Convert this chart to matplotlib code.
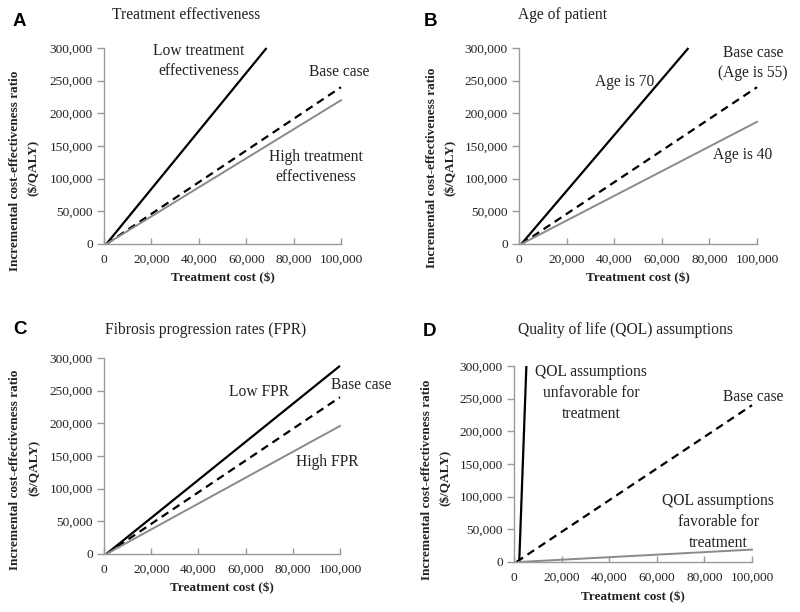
import matplotlib
matplotlib.use("Agg")
import matplotlib.pyplot as plt
from matplotlib.ticker import FuncFormatter

# ---------------- data ----------------
panel_letters = ["A", "B", "C", "D"]
panel_titles = ["Treatment effectiveness", "Age of patient",
                "Fibrosis progression rates (FPR)", "Quality of life (QOL) assumptions"]

# each series: x points (treatment cost), y points (ICER)
A_low_x = [1000, 68600];  A_low_y = [0, 300000]
A_base_x = [1000, 100000]; A_base_y = [0, 240000]
A_high_x = [1000, 100000]; A_high_y = [0, 220000]

B_70_x = [1000, 71200];   B_70_y = [0, 300000]
B_base_x = [1000, 100000]; B_base_y = [0, 240000]
B_40_x = [1000, 100000];  B_40_y = [0, 187000]

C_low_x = [1000, 100000]; C_low_y = [0, 288000]
C_base_x = [1000, 100000]; C_base_y = [0, 240000]
C_high_x = [1000, 100000]; C_high_y = [0, 196000]

D_unfav_x = [2200, 5200];  D_unfav_y = [0, 300000]
D_base_x = [1000, 100000]; D_base_y = [0, 240000]
D_fav_x = [2000, 100000];  D_fav_y = [0, 19000]

x_ticks = [0, 20000, 40000, 60000, 80000, 100000]
y_ticks = [0, 50000, 100000, 150000, 200000, 250000, 300000]

labels_A = ["Low treatment\neffectiveness", "Base case", "High treatment\neffectiveness"]
labels_B = ["Age is 70", "Base case\n(Age is 55)", "Age is 40"]
labels_C = ["Low FPR", "Base case", "High FPR"]
labels_D = ["QOL assumptions\nunfavorable for\ntreatment", "Base case",
            "QOL assumptions\nfavorable for\ntreatment"]

x_label = "Treatment cost ($)"
y_label1 = "Incremental cost-effectiveness ratio"
y_label2 = "($/QALY)"

# ---------------- layout ----------------
W, H = 800, 612
fig = plt.figure(figsize=(W / 100, H / 100), dpi=100)
SERIF = "Liberation Serif"
SANS = "Liberation Sans"
TXT = "#222222"


def P(x, y):
    return x / W, 1 - y / H


def make_axes(L, T, w, h):
    return fig.add_axes([L / W, 1 - (T + h) / H, w / W, h / H])


axes_px = [(104, 48, 237, 196), (519, 48, 238, 196),
           (104, 358, 236, 196), (514, 366, 238, 196)]

series = [
    [(A_low_x, A_low_y, "k"), (A_base_x, A_base_y, "d"), (A_high_x, A_high_y, "g")],
    [(B_70_x, B_70_y, "k"), (B_base_x, B_base_y, "d"), (B_40_x, B_40_y, "g")],
    [(C_low_x, C_low_y, "k"), (C_base_x, C_base_y, "d"), (C_high_x, C_high_y, "g")],
    [(D_unfav_x, D_unfav_y, "k"), (D_base_x, D_base_y, "d"), (D_fav_x, D_fav_y, "g")],
]
annot_labels = [labels_A, labels_B, labels_C, labels_D]
annot_pos = [
    [(199, 61), (339, 72), (316, 167)],
    [(625, 82), (753, 63), (743, 155)],
    [(259, 392), (361, 385), (327, 462)],
    [(591, 393), (753, 397), (718, 522)],
]
letter_pos = [(19, 21), (431, 21), (20, 330), (429, 331)]
title_pos = [(112, 15), (518, 15), (105, 330), (518, 330)]
ylab_pos = [((15, 171), (34, 168)), ((432, 168), (451, 168)),
            ((15, 470), (35, 468)), ((427, 480), (446, 478))]
xlab_pos = [(223, 278), (638, 278), (222, 588), (633, 597)]

fmt = FuncFormatter(lambda v, p: f"{int(v):,}")

for i in range(4):
    L, T, w, h = axes_px[i]
    ax = make_axes(L, T, w, h)
    for xs, ys, kind in series[i]:
        if kind == "k":
            ax.plot(xs, ys, color="black", lw=1.6, solid_capstyle="butt", clip_on=False)
        elif kind == "d":
            ax.plot(xs, ys, color="black", lw=1.6, dashes=(3.6, 2.4), clip_on=False)
        else:
            ax.plot(xs, ys, color="#8a8a8a", lw=1.4, clip_on=False)
    ax.set_xlim(0, 100000)
    ax.set_ylim(0, 300000)
    ax.set_xticks(x_ticks)
    ax.set_yticks(y_ticks)
    ax.xaxis.set_major_formatter(fmt)
    ax.yaxis.set_major_formatter(fmt)
    for s in ["top", "right"]:
        ax.spines[s].set_visible(False)
    for s in ["left", "bottom"]:
        ax.spines[s].set_color("#9a9a9a")
        ax.spines[s].set_linewidth(1.0)
    ax.tick_params(axis="x", direction="in", length=4, width=1, color="#9a9a9a",
                   pad=7, labelsize=9.6, labelcolor=TXT)
    ax.tick_params(axis="y", direction="out", length=5, width=1, color="#9a9a9a",
                   pad=3, labelsize=9.6, labelcolor=TXT)
    for lab in ax.get_xticklabels() + ax.get_yticklabels():
        lab.set_fontfamily(SERIF)
    ax.patch.set_alpha(0)

    # annotations
    for txt, (px, py) in zip(annot_labels[i], annot_pos[i]):
        fig.text(*P(px, py), txt, ha="center", va="center", fontsize=11.2,
                 family=SERIF, color=TXT, linespacing=1.4)
    # panel letter
    fig.text(*P(*letter_pos[i]), panel_letters[i], ha="center", va="center",
             fontsize=13.5, fontweight="bold", family=SANS, color="black")
    # title
    fig.text(*P(*title_pos[i]), panel_titles[i], ha="left", va="center",
             fontsize=11.2, family=SERIF, color=TXT)
    # axis labels
    (l1, l2) = ylab_pos[i]
    fig.text(*P(*l1), y_label1, rotation=90, ha="center", va="center",
             fontsize=9.5, fontweight="bold", family=SERIF, color=TXT)
    fig.text(*P(*l2), y_label2, rotation=90, ha="center", va="center",
             fontsize=9.5, fontweight="bold", family=SERIF, color=TXT)
    fig.text(*P(*xlab_pos[i]), x_label, ha="center", va="center",
             fontsize=9.5, fontweight="bold", family=SERIF, color=TXT)

fig.savefig("out.png", dpi=100)
